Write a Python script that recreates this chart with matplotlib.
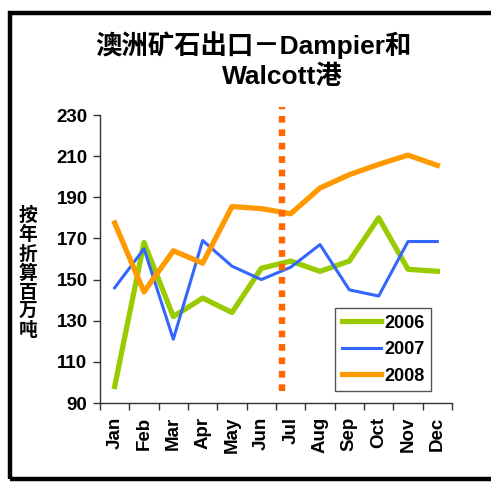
import matplotlib.pyplot as plt
from matplotlib.patches import Rectangle

months = ['Jan', 'Feb', 'Mar', 'Apr', 'May', 'Jun',
          'Jul', 'Aug', 'Sep', 'Oct', 'Nov', 'Dec']
y2006 = [98, 168, 132, 141, 134, 155.5, 159, 154, 159, 180, 155, 154]
y2007 = [146, 165, 121, 169, 156.5, 150, 156, 167, 145, 142, 168.5, 168.5]
y2008 = [177.5, 144, 164, 158, 185.5, 184.5, 182, 194.5, 201, 206, 210.5, 205.5]
yticks = [90, 110, 130, 150, 170, 190, 210, 230]
marker_pos = 5.7   # dashed divider, between Jun and Jul

FONT = ['Liberation Sans', 'Noto Sans CJK SC', 'DejaVu Sans']
plt.rcParams['font.family'] = FONT

fig = plt.figure(figsize=(4.91, 4.83), dpi=100)
fig.patch.set_facecolor('white')

# thick black frame round the chart
fig.patches.append(Rectangle((10 / 491, 4 / 483), 1.2, 466 / 483,
                             transform=fig.transFigure, fill=False,
                             edgecolor='black', linewidth=3.2))

ax = fig.add_axes([100 / 491, 80 / 483, 352 / 491, 288 / 483])
x = range(len(months))
ax.plot(x, y2006, color='#99CC00', lw=3.8, label='2006')
ax.plot(x, y2007, color='#3366FF', lw=2.2, label='2007')
ax.plot(x, y2008, color='#FF9900', lw=3.8, label='2008')
ax.plot([marker_pos, marker_pos], [96, 234], color='#FF6600', lw=4.6,
        dashes=(1.05, 1.05), dash_capstyle='butt', clip_on=False)

ax.set_xlim(-0.5, 11.5)
ax.set_ylim(90, 230)
ax.set_yticks(yticks)
ax.set_xticks(list(x))
ax.set_xticks([i - 0.5 for i in range(13)], minor=True)
ax.set_xticklabels(months, rotation=90, fontsize=13.5, fontweight='bold')
ax.set_yticklabels([str(t) for t in yticks], fontsize=13.5, fontweight='bold')
ax.tick_params(axis='x', which='major', length=0, pad=10)
ax.tick_params(axis='x', which='minor', length=5, color='#333333', width=1)
ax.tick_params(axis='y', length=5, color='#333333', width=1, pad=4)
for s in ['top', 'right']:
    ax.spines[s].set_visible(False)
for s in ['left', 'bottom']:
    ax.spines[s].set_color('#333333')
    ax.spines[s].set_linewidth(1)

leg = ax.legend(loc='lower left', bbox_to_anchor=(0.668, 0.04), fancybox=False,
                edgecolor='#555555', framealpha=1, handlelength=2.15,
                prop={'weight': 'bold', 'size': 13}, borderpad=0.37,
                labelspacing=0.53, handletextpad=0.2, borderaxespad=0)
leg.get_frame().set_linewidth(1)

fig.text(253 / 491, 1 - 45 / 483, '澳洲矿石出口－Dampier和', ha='center', va='center',
         fontsize=19, fontweight='bold')
fig.text(282 / 491, 1 - 77 / 483, 'Walcott港', ha='center', va='center',
         fontsize=19, fontweight='bold')
fig.text(28 / 491, 1 - 273 / 483, '\n'.join('按年折算百万吨'), ha='center', va='center',
         fontsize=13.5, fontweight='bold', linespacing=1.1)

fig.savefig('out.png', dpi=100)
